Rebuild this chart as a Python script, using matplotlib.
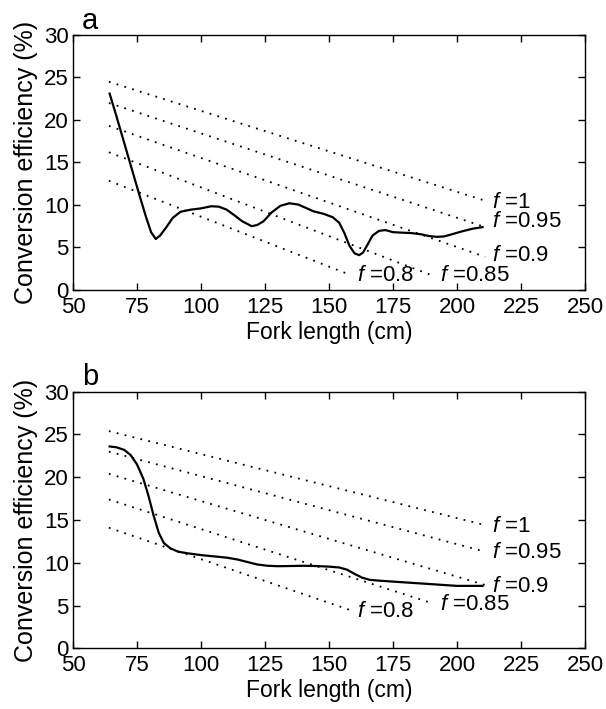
import matplotlib
matplotlib.use("Agg")
import matplotlib.pyplot as plt
import numpy as np

plt.rcParams['font.family'] = ['Liberation Sans', 'DejaVu Sans']
plt.rcParams['mathtext.fontset'] = 'custom'
plt.rcParams['mathtext.rm'] = 'Liberation Sans'
plt.rcParams['mathtext.it'] = 'Liberation Sans:italic'

# panel a: conversion efficiency vs fork length
len_a = [64.3, 67, 70, 73, 76, 78.5, 80.5, 82.3, 84, 86.5, 89, 92, 96, 100,
         104, 107, 110, 113, 116, 119.8, 122, 124.5, 127.5, 131, 134.5,
         138, 141, 144, 148, 151.5, 154, 156, 158, 160, 161.8, 163.3, 165,
         167, 169.5, 172, 175, 178, 182, 186, 189, 192, 195, 198, 202, 206, 210]
eff_a = [23.1, 20.4, 17.3, 14.2, 11.1, 8.6, 6.8, 6.0, 6.4, 7.4, 8.5, 9.2, 9.45, 9.6,
         9.85, 9.8, 9.45, 8.8, 8.1, 7.5, 7.65, 8.1, 9.1, 9.9, 10.2,
         10.05, 9.65, 9.25, 8.95, 8.55, 7.9, 6.7, 5.2, 4.3, 4.1, 4.4, 5.3,
         6.4, 6.95, 7.05, 6.8, 6.75, 6.7, 6.55, 6.35, 6.25, 6.3, 6.55, 6.9, 7.2, 7.4]

# panel b
len_b = [64.3, 67, 70, 72.5, 75, 77.5, 79.5, 81.5, 83.5, 85.5, 88, 91, 95, 100,
         105, 110, 114, 118, 122, 126, 130, 135, 140, 145, 150, 154, 157, 160,
         163, 166, 170, 175, 180, 185, 190, 195, 200, 205, 210]
eff_b = [23.6, 23.5, 23.2, 22.6, 21.5, 19.8, 17.8, 15.5, 13.5, 12.3, 11.7, 11.3, 11.1, 10.9,
         10.75, 10.6, 10.4, 10.1, 9.8, 9.65, 9.6, 9.62, 9.65, 9.62, 9.55, 9.45, 9.2, 8.7,
         8.25, 8.0, 7.9, 7.8, 7.7, 7.6, 7.5, 7.4, 7.3, 7.3, 7.3]

# reference lines for different f: (x0, y0, x1, y1)
f_labels = ['1', '0.95', '0.9', '0.85', '0.8']
ref_a = [(64, 24.5, 211, 10.5), (64, 22.0, 211, 7.4), (64, 19.3, 211, 3.9),
         (64, 16.2, 190, 1.75), (64, 12.85, 158.5, 1.75)]
ref_b = [(64, 25.4, 211, 14.4), (64, 23.0, 211, 11.3), (64, 20.4, 211, 7.4),
         (64, 17.4, 190, 5.3), (64, 14.1, 158, 4.5)]
lab_pos_a = [(213.5, 10.3), (213.5, 8.0), (213.5, 4.1), (193.3, 1.75), (161, 1.75)]
lab_pos_b = [(213.5, 14.2), (213.5, 11.2), (213.5, 7.2), (193.3, 5.1), (161, 4.3)]

fig = plt.figure(figsize=(6.06, 7.09), dpi=100)
ax_a = fig.add_axes([0.1205, 0.591, 0.8448, 0.3597])
ax_b = fig.add_axes([0.1205, 0.0856, 0.8448, 0.3619])


def draw_panel(ax, x, y, refs, lab_pos, tag):
    for (x0, y0, x1, y1) in refs:
        ax.plot([x0, x1], [y0, y1], color='black', linestyle=(0, (1, 3.5)), linewidth=1.3)
    ax.plot(x, y, color='black', linewidth=1.6)
    for lab, (tx, ty) in zip(f_labels, lab_pos):
        ax.text(tx, ty, r'$f\ $=' + lab, fontsize=16, va='center', ha='left')
    ax.set_xlim(50, 250)
    ax.set_ylim(0, 30)
    ax.set_xticks(np.arange(50, 251, 25))
    ax.set_yticks(np.arange(0, 31, 5))
    ax.tick_params(direction='in', top=True, right=True, labelsize=16, length=5, width=1)
    ax.tick_params(axis='x', pad=5)
    ax.tick_params(axis='y', pad=3)
    for s in ax.spines.values():
        s.set_linewidth(1.0)
    ax.set_xlabel('Fork length (cm)', fontsize=16.5, labelpad=2)
    ax.set_ylabel('Conversion efficiency (%)', fontsize=18, labelpad=4)
    ax.text(0.018, 1.025, tag, transform=ax.transAxes, fontsize=21, va='baseline', ha='left')


draw_panel(ax_a, len_a, eff_a, ref_a, lab_pos_a, 'a')
draw_panel(ax_b, len_b, eff_b, ref_b, lab_pos_b, 'b')

fig.savefig('out.png', dpi=100)
